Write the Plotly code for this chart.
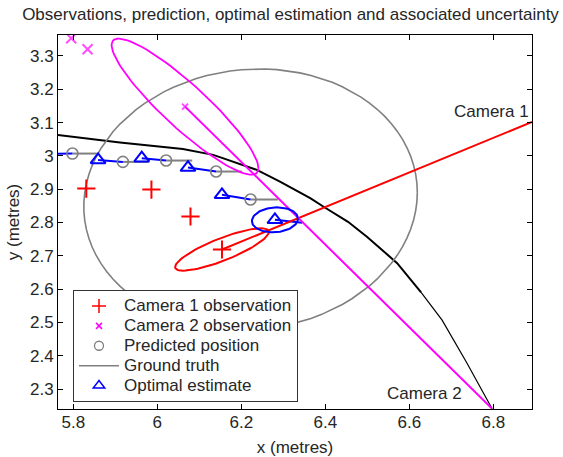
import numpy as np
import plotly.graph_objects as go

# ---- data -------------------------------------------------------------
# camera 1 observations (red +)
cam1_obs_x = [5.831, 5.986, 6.079, 6.154]
cam1_obs_y = [2.902, 2.899, 2.818, 2.719]
# camera 2 observations (magenta x)
cam2_obs_x = [5.795, 5.834, 6.066]
cam2_obs_y = [3.353, 3.320, 3.148]
# predicted positions (grey circles) and the tips of their heading strokes
pred_x = [5.798, 5.918, 6.021, 6.140, 6.222]
pred_y = [3.007, 2.982, 2.986, 2.953, 2.869]
pred_tip_x = [5.856, 5.979, 6.083, 6.202, 6.287]
# optimal estimates (blue triangles); the first one sits just left of the view
est_x = [5.740, 5.859, 5.963, 6.073, 6.154, 6.280]
est_y = [3.006, 2.988, 2.993, 2.965, 2.883, 2.808]
next_step = (6.345, 2.799)
# ground truth trajectory
truth_x = [5.761, 5.911, 6.061, 6.133, 6.154, 6.237, 6.292, 6.364, 6.395,
           6.454, 6.499, 6.571, 6.628, 6.678, 6.737, 6.797]
truth_y = [3.063, 3.040, 3.021, 3.003, 2.994, 2.958, 2.923, 2.873, 2.848,
           2.802, 2.757, 2.678, 2.590, 2.507, 2.378, 2.241]
truth_thin_from = 12
# camera positions
cam1_pos = (6.892, 3.102)
cam2_pos = (6.797, 2.241)
# uncertainty ellipses: covariance (sxx, syy, sxy)
pred_cov = (0.1576, 0.1537, 0.0085)
cam1_cov = (0.01246, 0.00405, 0.00588)
cam2_cov = (0.03053, 0.04179, -0.03231)
est_cov = (0.0030, 0.0014, 0.0002)

x_ticks = [5.8, 6.0, 6.2, 6.4, 6.6, 6.8]
x_tick_labels = ["5.8", "6", "6.2", "6.4", "6.6", "6.8"]
y_ticks = [2.3, 2.4, 2.5, 2.6, 2.7, 2.8, 2.9, 3.0, 3.1, 3.2, 3.3]
y_tick_labels = ["2.3", "2.4", "2.5", "2.6", "2.7", "2.8", "2.9", "3", "3.1", "3.2", "3.3"]

FONT = "Liberation Sans, Arial, Helvetica, sans-serif"
TXT = "#262626"
GREY = "#808080"


def ellipse(cx, cy, cov, n=90):
    sxx, syy, sxy = cov
    L = np.linalg.cholesky(np.array([[sxx, sxy], [sxy, syy]]))
    t = np.linspace(0, 2 * np.pi, n)
    pts = L @ np.vstack([np.cos(t), np.sin(t)])
    return cx + pts[0], cy + pts[1]


def segments(x0, y0, x1, y1):
    xs, ys = [], []
    for a, b, c, d in zip(x0, y0, x1, y1):
        xs += [a, c, None]
        ys += [b, d, None]
    return xs, ys


fig = go.Figure()


def line(x, y, color, width):
    fig.add_trace(go.Scatter(x=x, y=y, mode="lines", showlegend=False,
                             line=dict(color=color, width=width), hoverinfo="skip"))


# ground truth
line(truth_x[:truth_thin_from + 1], truth_y[:truth_thin_from + 1], "black", 2)
line(truth_x[truth_thin_from:], truth_y[truth_thin_from:], "black", 1.2)

# prediction uncertainty
ex, ey = ellipse(pred_x[-1], pred_y[-1], pred_cov)
line(ex, ey, GREY, 1.6)

# heading strokes of the predictions
sx, sy = segments(pred_x, pred_y, pred_tip_x, pred_y)
line(sx, sy, GREY, 2)

# each estimate joined to the prediction that follows it
bx, by = segments(est_x, est_y, pred_x + [next_step[0]], pred_y + [next_step[1]])
line(bx, by, "blue", 2)

# lines of sight from the latest observations to each camera
line([cam1_obs_x[-1], cam1_pos[0]], [cam1_obs_y[-1], cam1_pos[1]], "red", 2)
line([cam2_obs_x[-1], cam2_pos[0]], [cam2_obs_y[-1], cam2_pos[1]], "magenta", 2)

# measurement / estimate uncertainty
ex, ey = ellipse(cam1_obs_x[-1], cam1_obs_y[-1], cam1_cov)
line(ex, ey, "red", 2)
ex, ey = ellipse(cam2_obs_x[-1], cam2_obs_y[-1], cam2_cov)
line(ex, ey, "magenta", 1.8)
ex, ey = ellipse(est_x[-1], est_y[-1], est_cov)
line(ex, ey, "blue", 2)

# markers
fig.add_trace(go.Scatter(x=pred_x, y=pred_y, mode="markers", showlegend=False,
                         marker=dict(symbol="circle-open", size=11, color=GREY,
                                     line=dict(width=1.6, color=GREY))))
fig.add_trace(go.Scatter(x=est_x, y=est_y, mode="markers", showlegend=False,
                         marker=dict(symbol="triangle-up-open", size=13, color="blue",
                                     line=dict(width=2, color="blue"))))
fig.add_trace(go.Scatter(x=cam1_obs_x, y=cam1_obs_y, mode="markers", showlegend=False,
                         marker=dict(symbol="cross-thin", size=13,
                                     line=dict(width=2, color="red"))))
fig.add_trace(go.Scatter(x=cam2_obs_x, y=cam2_obs_y, mode="markers", showlegend=False,
                         marker=dict(symbol="x-thin", size=[10, 10, 6],
                                     line=dict(width=2, color="magenta"))))


# legend entries
def lab(s):
    return '<span style="font-size:17px">%s</span>' % s


legend_items = [
    ("Camera 1 observation", dict(mode="markers", marker=dict(symbol="cross-thin", size=10, line=dict(width=1.5, color="red")))),
    ("Camera 2 observation", dict(mode="markers", marker=dict(symbol="x-thin", size=6, line=dict(width=1.5, color="magenta")))),
    ("Predicted position", dict(mode="markers", marker=dict(symbol="circle-open", size=9, color=GREY, line=dict(width=1.3, color=GREY)))),
    ("Ground truth", dict(mode="lines", line=dict(color=GREY, width=1.5))),
    ("Optimal estimate", dict(mode="markers", marker=dict(symbol="triangle-up-open", size=10, color="blue", line=dict(width=1.5, color="blue")))),
]
for name, style in legend_items:
    fig.add_trace(go.Scatter(x=[None], y=[None], name=lab(name), showlegend=True, **style))

fig.add_annotation(x=6.796, y=3.132, text="Camera 1", showarrow=False,
                   font=dict(size=17, family=FONT, color=TXT))
fig.add_annotation(x=6.637, y=2.288, text="Camera 2", showarrow=False,
                   font=dict(size=17, family=FONT, color=TXT))

axis_common = dict(showgrid=False, zeroline=False, showline=True, linecolor="black",
                   linewidth=1, mirror="ticks", ticks="inside", ticklen=5,
                   tickcolor="black", tickwidth=1, tickmode="array", automargin=False,
                   tickfont=dict(size=17, family=FONT, color=TXT))

fig.update_layout(
    width=563, height=457,
    margin=dict(l=58, r=31, t=35, b=48),
    paper_bgcolor="white", plot_bgcolor="white",
    font=dict(family=FONT, color=TXT),
    title=dict(text="Observations, prediction, optimal estimation and associated uncertainty",
               x=0.516, xref="container", xanchor="center",
               y=1 - 14 / 457, yref="container", yanchor="middle",
               font=dict(size=17, family=FONT, color=TXT)),
    xaxis=dict(range=[5.7636, 6.892], tickvals=x_ticks, ticktext=x_tick_labels,
               ticklabelstandoff=-2,
               title=dict(text="x (metres)", font=dict(size=17, family=FONT, color=TXT), standoff=9),
               **axis_common),
    yaxis=dict(range=[2.24, 3.363], tickvals=y_ticks, ticktext=y_tick_labels,
               title=dict(text="y (metres)", font=dict(size=17, family=FONT, color=TXT), standoff=6),
               **axis_common),
    legend=dict(x=(73 - 58) / 474, y=1 - (290 - 35) / 374, xanchor="left", yanchor="top",
                bgcolor="white", bordercolor="#333333", borderwidth=1,
                font=dict(size=13, family=FONT, color=TXT), itemwidth=40,
                tracegroupgap=0),
    showlegend=True,
)

fig.write_html("out.html")
